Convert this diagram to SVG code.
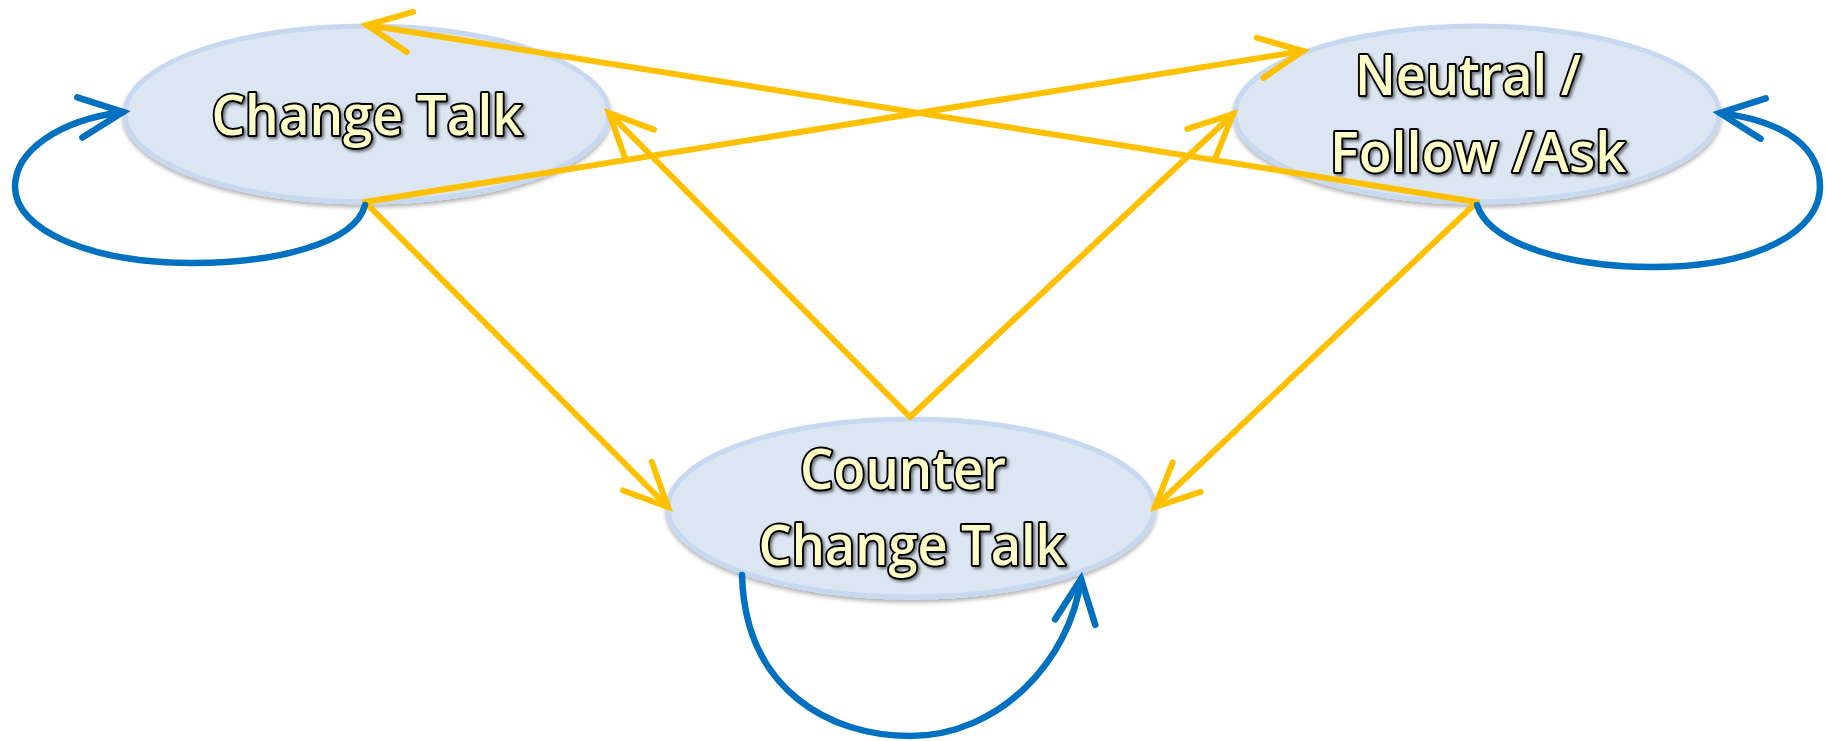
<svg xmlns="http://www.w3.org/2000/svg" width="1825" height="741" viewBox="0 0 1825 741">
<style>
.node ellipse{fill:#DCE6F2;stroke:#C6D9F1;stroke-width:5;filter:url(#sh)}
.node text{font-family:"Open Sans","Noto Sans","Liberation Sans",sans-serif;font-size:56px;font-weight:600;fill:#FFFFC8;stroke:#000;stroke-width:4;paint-order:stroke fill;stroke-linejoin:round;text-anchor:middle;filter:url(#tsh)}
.y{fill:none;stroke:#FFC000;stroke-width:6;stroke-linecap:round;marker-end:url(#aY)}
.b{fill:none;stroke:#0070C0;stroke-width:6.5;stroke-linecap:round;marker-end:url(#aB)}
</style>
<defs>
<filter id="sh" x="-10%" y="-10%" width="120%" height="130%">
<feDropShadow dx="0" dy="3" stdDeviation="2" flood-color="#000" flood-opacity="0.3"/>
</filter>
<filter id="tsh" x="-10%" y="-20%" width="120%" height="150%">
<feDropShadow dx="2" dy="2" stdDeviation="1.5" flood-color="#000" flood-opacity="0.5"/>
</filter>
<marker id="aY" markerUnits="userSpaceOnUse" orient="auto" markerWidth="60" markerHeight="60" refX="0" refY="0" style="overflow:visible">
<path d="M-43.5,-20.3 L0,0 L-43.5,20.3" fill="none" stroke="#FFC000" stroke-width="6" stroke-linecap="round" stroke-linejoin="miter"/>
</marker>
<marker id="aB" markerUnits="userSpaceOnUse" orient="auto" markerWidth="60" markerHeight="60" refX="0" refY="0" style="overflow:visible">
<path d="M-43.5,-20.3 L0,0 L-43.5,20.3" fill="none" stroke="#0070C0" stroke-width="6.5" stroke-linecap="round" stroke-linejoin="miter"/>
</marker>
</defs>
<rect width="1825" height="741" fill="#fff"/>
<g id="node-change-talk" class="node">
<ellipse cx="367" cy="114" rx="242" ry="88"/>
<text x="367" y="135" textLength="311" lengthAdjust="spacingAndGlyphs">Change Talk</text>
</g>
<g id="node-neutral" class="node">
<ellipse cx="1477" cy="114" rx="242" ry="88"/>
<text x="1468" y="95" textLength="226" lengthAdjust="spacingAndGlyphs">Neutral /</text>
<text x="1478" y="172" textLength="296" lengthAdjust="spacingAndGlyphs">Follow /Ask</text>
</g>
<g id="node-counter" class="node">
<ellipse cx="911" cy="508" rx="243" ry="89"/>
<text x="903" y="489" textLength="206" lengthAdjust="spacingAndGlyphs">Counter</text>
<text x="912" y="565" textLength="307" lengthAdjust="spacingAndGlyphs">Change Talk</text>
</g>
<g id="connectors">
<path class="y" d="M1477,202 L367,25"/>
<path class="y" d="M365,202 L1303,51"/>
<path class="y" d="M910,417 L609,113"/>
<path class="y" d="M910,417 L1233,114"/>
<path class="y" d="M365,202 L668,507"/>
<path class="y" d="M1477,202 L1155,507"/>
<path class="b" d="M365,205 C355,245 270,263 193,263 C90,263 15,230 15,187 C15,150 60,120 123,112"/>
<path class="b" d="M1477,205 C1490,245 1570,267 1652,267 C1760,267 1820,230 1820,187 C1820,150 1790,122 1720,113"/>
<path class="b" d="M742,575 C745,690 830,736 910,736 C1000,736 1070,660 1081,579"/>
</g>
</svg>
